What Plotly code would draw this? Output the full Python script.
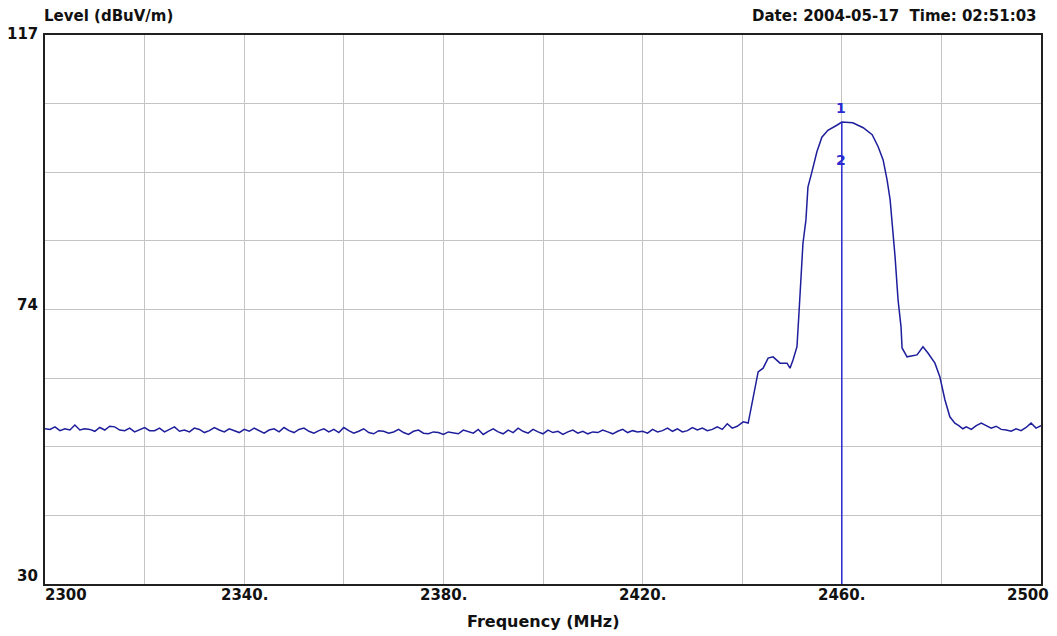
import plotly.graph_objects as go

# ---- data ----
floor_freq_start = 2300
floor_level = [
    54.6, 54.5, 54.9, 54.3, 54.6, 54.4, 55.2, 54.4, 54.6, 54.5, 54.2, 54.8, 54.4, 55.0, 54.9, 54.4, 54.3, 54.7, 54.1, 54.5,
    54.8, 54.3, 54.3, 54.7, 54.1, 54.5, 54.9, 54.2, 54.4, 54.1, 54.7, 54.5, 54.0, 54.3, 54.8, 54.4, 54.1, 54.6, 54.3, 54.0,
    54.5, 54.2, 54.7, 54.3, 53.9, 54.4, 54.6, 54.1, 54.8, 54.3, 54.0, 54.5, 54.7, 54.2, 53.9, 54.3, 54.6, 54.1, 54.5, 54.0,
    54.8, 54.3, 53.9, 54.2, 54.6, 54.0, 53.8, 54.3, 54.2, 53.9, 54.1, 54.5, 54.0, 53.7, 54.2, 54.4, 53.9, 53.8, 54.1, 54.0,
    53.7, 54.1, 54.0, 53.8, 54.4, 54.1, 53.9, 54.5, 53.7, 54.2, 54.6, 54.1, 53.8, 54.4, 54.0, 54.7, 54.2, 53.9, 54.5, 54.1,
    53.8, 54.4, 54.0, 54.2, 53.7, 54.1, 54.4, 53.9, 54.2, 53.8, 54.1, 54.0, 54.4, 54.1, 53.8, 54.2, 54.5, 54.0, 54.3, 54.1,
    54.2, 53.9, 54.5, 54.1, 54.3, 54.7, 54.2, 54.6, 54.1, 54.3, 54.8, 54.4, 54.7, 54.3, 54.5, 54.9, 54.5, 55.4, 54.7, 55.0,
]

signal_freq = [
    2440.2, 2441.2, 2442.0, 2442.6, 2443.2, 2444.2, 2445.2, 2446.2, 2447.6, 2449.0,
    2449.6, 2450.2, 2451.0, 2451.4, 2451.8, 2452.2, 2452.8, 2453.2, 2454.0, 2455.0,
    2456.0, 2457.2, 2459.0, 2460.0, 2462.2, 2464.3, 2466.1, 2467.3, 2468.3, 2469.1,
    2469.7, 2470.3, 2470.7, 2471.3, 2471.9, 2472.1, 2473.1, 2475.1, 2476.3, 2477.3,
    2478.7, 2479.7, 2480.7, 2481.7, 2482.7,
    2483.5, 2484.3, 2485.0, 2486.0, 2487.0, 2488.0, 2489.0, 2490.0, 2491.0, 2492.0,
    2493.0, 2494.0, 2495.0, 2496.0, 2497.0, 2498.0, 2499.0, 2500.0,
]
signal_level = [
    55.7, 55.5, 58.8, 60.7, 63.6, 64.2, 65.8, 66.0, 65.0, 65.0,
    64.2, 65.5, 67.6, 72.9, 77.7, 84.0, 87.7, 92.9, 95.3, 98.5,
    100.8, 101.9, 102.7, 103.2, 103.1, 102.3, 101.2, 99.3, 97.2, 94.0,
    90.9, 85.6, 81.8, 75.0, 70.7, 67.4, 66.0, 66.3, 67.6, 66.6,
    65.0, 62.8, 59.2, 56.5, 55.5,
    55.1, 54.6, 54.9, 54.5, 55.1, 55.5, 55.1, 54.7, 55.0, 54.5,
    54.4, 54.2, 54.6, 54.3, 54.8, 55.5, 54.7, 55.1,
]

marker_freq = 2460.0
marker_peak = 103.2
marker_labels = ["1", "2"]
marker_label_levels = [105.4, 97.2]

x_range = [2300, 2500]
y_range = [30, 117]
x_grid_step = 20
y_grid_step = 10.875
x_tick_vals = [2300, 2340, 2380, 2420, 2460, 2500]
x_tick_text = ["2300", "2340.", "2380.", "2420.", "2460.", "2500"]
y_tick_vals = [117, 74, 30]
y_tick_text = ["117", "74", "30"]

# ---- build ----
freq = [floor_freq_start + i for i in range(len(floor_level))] + signal_freq
level = floor_level + signal_level

FONT = "DejaVu Sans, Verdana, sans-serif"
TRACE = "#1e1e9c"
MARK = "#2a2ad0"

fig = go.Figure()
fig.add_trace(go.Scatter(x=freq, y=level, mode="lines",
                         line=dict(color=TRACE, width=1.5), hoverinfo="skip"))
fig.add_trace(go.Scatter(x=[marker_freq, marker_freq], y=[y_range[0], marker_peak], mode="lines",
                         line=dict(color=MARK, width=1.5), hoverinfo="skip"))

x_grid = list(range(x_range[0], x_range[1] + 1, x_grid_step))
y_grid = [y_range[1] - k * y_grid_step for k in range(9)]

fig.update_xaxes(range=x_range, tickvals=x_grid, showticklabels=False, ticks="",
                 showgrid=True, gridcolor="#c4c4c4", gridwidth=1, zeroline=False,
                 showline=True, linecolor="#202020", linewidth=2, mirror=True)
fig.update_yaxes(range=y_range, tickvals=y_grid, showticklabels=False, ticks="",
                 showgrid=True, gridcolor="#c4c4c4", gridwidth=1, zeroline=False,
                 showline=True, linecolor="#202020", linewidth=2, mirror=True)

ann = []
for i, (v, t) in enumerate(zip(x_tick_vals, x_tick_text)):
    if i == 0:
        xa, xs = "left", -2
    elif i == len(x_tick_vals) - 1:
        xa, xs = "right", 10
    else:
        xa, xs = "center", 0
    ann.append(dict(x=v, y=0, xref="x", yref="paper", text=f"<b>{t}</b>", showarrow=False,
                    xanchor=xa, yanchor="top", yshift=0, xshift=xs,
                    font=dict(family=FONT, size=15, color="#111")))
for v, t in zip(y_tick_vals, y_tick_text):
    ann.append(dict(x=0, y=v, xref="paper", yref="y", text=f"<b>{t}</b>", showarrow=False,
                    xanchor="right", yanchor="middle", xshift=-5, yshift=(8 if v == y_range[0] else 1),
                    font=dict(family=FONT, size=15, color="#111")))
for t, lv in zip(marker_labels, marker_label_levels):
    ann.append(dict(x=marker_freq, y=lv, xref="x", yref="y", text=f"<b>{t}</b>", showarrow=False,
                    xanchor="center", yanchor="middle", xshift=-1,
                    font=dict(family=FONT, size=14, color=MARK)))
ann.append(dict(x=0, y=1, xref="paper", yref="paper", text="<b>Level (dBuV/m)</b>", showarrow=False,
                xanchor="left", yanchor="bottom", xshift=-3, yshift=8,
                font=dict(family=FONT, size=15, color="#111")))
ann.append(dict(x=1, y=1, xref="paper", yref="paper", text="<b>Date: 2004-05-17  Time: 02:51:03</b>",
                showarrow=False, xanchor="right", yanchor="bottom", xshift=-2, yshift=8,
                font=dict(family=FONT, size=15, color="#111")))
ann.append(dict(x=0.5, y=0, xref="paper", yref="paper", text="<b>Frequency (MHz)</b>", showarrow=False,
                xanchor="center", yanchor="top", yshift=-26,
                font=dict(family=FONT, size=16, color="#111")))

fig.update_layout(width=1057, height=636, margin=dict(l=45, r=16, t=35, b=52),
                  paper_bgcolor="white", plot_bgcolor="white", showlegend=False,
                  annotations=ann)

fig.write_html("out.html", config={"displayModeBar": False})
